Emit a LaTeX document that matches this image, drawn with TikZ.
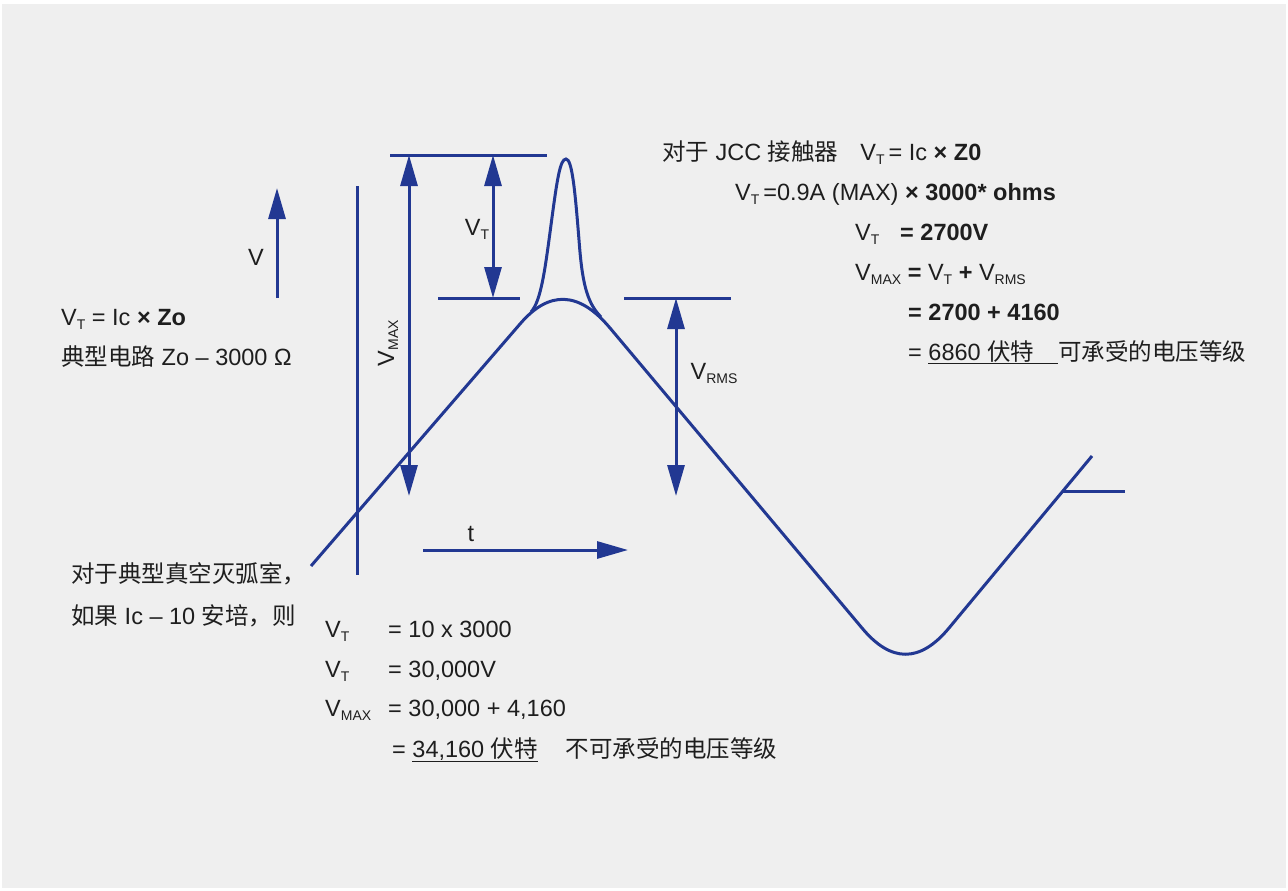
\documentclass[tikz,border=0pt]{standalone}
\usepackage{fontspec}
\setmainfont{Liberation Sans}
\newfontfamily\cjk{Noto Sans CJK SC}
\usetikzlibrary{arrows.meta}
\definecolor{wave}{RGB}{34,56,146}
\definecolor{panel}{RGB}{239,239,239}
\definecolor{ink}{RGB}{30,30,30}
\newcommand\vsub[1]{V\raisebox{-4pt}{\fontsize{14}{14}\selectfont #1}}
\newcommand\zh[1]{{\cjk #1}}
\tikzset{
  curve/.style={draw=wave, line width=3pt},
  onearrow/.style={curve, -{Triangle[length=31pt,width=17pt]}},
  twoarrow/.style={curve, {Triangle[length=31pt,width=17pt]}-{Triangle[length=31pt,width=17pt]}},
  txt/.style={anchor=base west, inner sep=0pt, text=ink},
  lbl/.style={inner sep=0pt, text=ink}
}
\begin{document}
\begin{tikzpicture}[x=1pt, y=-1pt, every node/.style={font=\fontsize{23.5}{28}\selectfont}]
  \useasboundingbox[fill=white] (0,0) rectangle (1288,891);
  \fill[panel] (2,4) rectangle (1286,888);

  % axes
  \draw[onearrow] (277,298) -- (277,188);
  \node[lbl] (vaxis) at (256,257) {V};
  \draw[onearrow] (423,550) -- (628,550);
  \node[lbl] (taxis) at (471,534) {t};
  \draw[curve] (357,186) -- (357,575);

  % reference levels
  \draw[curve] (390,155) -- (547,155);
  \draw[curve] (438,298) -- (520,298);
  \draw[curve] (624,298) -- (731,298);
  \draw[curve] (1063,491) -- (1125,491);

  % dimensions
  \draw[twoarrow] (409,155) -- (409,496);
  \node[lbl, rotate=90] (vmax) at (388,343) {\vsub{MAX}};
  \draw[twoarrow] (493,155) -- (493,298);
  \node[lbl] (vt) at (477,229) {\vsub{T}};
  \draw[twoarrow] (676,298) -- (676,496);
  \node[lbl] (vrms) at (714,373) {\vsub{RMS}};

  % waveform
  \draw[curve, line join=round] (311,566) -- (520,324)
    .. controls (549,290) and (579,291) .. (610,328)
    -- (862,628) .. controls (891,663) and (920,663) .. (949,628) -- (1092,456);
  % transient spike
  \draw[curve] (531,312) .. controls (541,301) and (545,270) .. (551,225)
    .. controls (557,180) and (560,159) .. (566,159)
    .. controls (572,159) and (575,190) .. (579,240)
    .. controls (582,280) and (586,302) .. (601,317);

  % left notes
  \node[txt] (l1) at (61,325) {\vsub{T} = Ic \textbf{× Zo}};
  \node[txt] (l2) at (61,365) {\zh{典型电路} Zo – 3000 Ω};
  \node[txt] (l3) at (71,582) {\zh{对于典型真空灭弧室，}};
  \node[txt] (l4) at (71,624) {\zh{如果} Ic – 10 \zh{安培，则}};

  % bottom block
  \node[txt] (b1) at (325,637) {\vsub{T}};
  \node[txt] (b1r) at (388,637) {= 10 x 3000};
  \node[txt] (b2) at (325,677) {\vsub{T}};
  \node[txt] (b2r) at (388,677) {= 30,000V};
  \node[txt] (b3) at (325,716) {\vsub{MAX}};
  \node[txt] (b3r) at (388,716) {= 30,000 + 4,160};
  \node[txt] (b4r) at (392,757) {= \underline{34,160 \zh{伏特}}\hspace{28pt}\zh{不可承受的电压等级}};

  % right block
  \node[txt] (r1) at (662,160) {\zh{对于} JCC \zh{接触器}\hspace{22pt}\vsub{T}\,= Ic \textbf{× Z0}};
  \node[txt] (r2) at (735,200) {\vsub{T}\,=0.9A (MAX) \textbf{× 3000* ohms}};
  \node[txt] (r3) at (855,240) {\vsub{T}};
  \node[txt] (r3r) at (900,240) {\textbf{= 2700V}};
  \node[txt] (r4) at (855,280) {\vsub{MAX} \textbf{=} V\raisebox{-4pt}{\fontsize{14}{14}\selectfont T} \textbf{+} \vsub{RMS}};
  \node[txt] (r5) at (908,320) {\textbf{= 2700 + 4160}};
  \node[txt] (r6) at (908,360) {= \underline{6860 \zh{伏特}\hspace{24pt}}\zh{可承受的电压等级}};
\end{tikzpicture}
\end{document}
